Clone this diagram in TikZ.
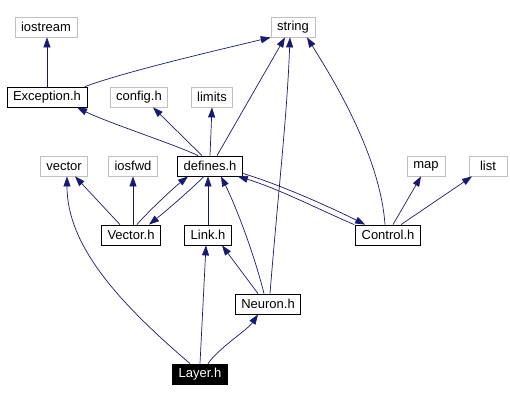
\documentclass[tikz,border=0pt]{standalone}
\usepackage{fontspec}
\setmainfont{Liberation Sans}
\usepackage{tikz}
\usetikzlibrary{arrows.meta}
\definecolor{edgeblue}{RGB}{25,25,112}
\definecolor{sysgray}{RGB}{191,191,191}

\begin{document}
\begin{tikzpicture}[x=1pt,y=-1pt]
\tikzstyle{arrow} = [edgeblue,line width=0.7pt,-{Triangle[length=10pt,width=7pt]}]
\tikzstyle{file} = [rectangle,draw=black,line width=0.8pt,minimum height=20pt,minimum width=38pt,
  inner xsep=6pt,inner ysep=0pt,font=\fontsize{13}{15}\selectfont]
\tikzstyle{sysfile} = [file,draw=sysgray]
\tikzstyle{mainfile} = [file,fill=black,text=white]
\useasboundingbox (0,0) rectangle (510,401);
\node[sysfile] (iostream) at (46,27) {iostream};
\node[sysfile] (string) at (293,27) {string};
\node[file] (exc) at (47,97) {Exception.h};
\node[sysfile] (config) at (139,97) {config.h};
\node[sysfile] (limits) at (212,97) {limits};
\node[file] (defines) at (210,166) {defines.h};
\node[sysfile] (vector) at (64,166) {vector};
\node[sysfile] (iosfwd) at (133,166) {iosfwd};
\node[sysfile] (map) at (426,166) {map};
\node[sysfile] (list) at (488,166) {list};
\node[file] (vech) at (131,235) {Vector.h};
\node[file] (link) at (208,235) {Link.h};
\node[file] (control) at (388,235) {Control.h};
\node[file] (neuron) at (268,304) {Neuron.h};
\node[mainfile] (layer) at (200,374) {Layer.h};
\draw[arrow] (exc.north) -- (exc.north |- iostream.south);
\draw[arrow] ([xshift=38pt]exc.north) .. controls +(40,-15) and +(-50,12) .. (string.south west);
\draw[arrow] ([xshift=-12pt]defines.north) .. controls +(-20,-10) and +(30,15) .. ([xshift=30pt]exc.south);
\draw[arrow] ([xshift=-8pt]defines.north) -- ([xshift=14pt]config.south);
\draw[arrow] (defines.north) -- (limits.south);
\draw[arrow] ([xshift=7pt]defines.north) -- ([xshift=-8pt]string.south);
\draw[arrow] ([xshift=-11pt]vech.north) -- ([xshift=11pt]vector.south);
\draw[arrow] (vech.north -| iosfwd) -- (iosfwd.south);
\draw[arrow] ([xshift=6pt]vech.north) .. controls +(10,-12) and +(-15,12) .. ([xshift=-22pt]defines.south);
\draw[arrow] ([xshift=-6pt]defines.south) .. controls +(-15,15) and +(15,-12) .. ([xshift=18pt]vech.north);
\draw[arrow] (link.north) -- (link.north |- defines.south);
\draw[arrow] ([xshift=-4pt]neuron.north) .. controls +(-10,-40) and +(15,30) .. ([xshift=11pt]defines.south);
\draw[arrow] ([xshift=-10pt]neuron.north) -- ([xshift=14pt]link.south);
\draw[arrow] ([xshift=2pt]neuron.north) .. controls +(8,-100) and +(-3,80) .. ([xshift=-3pt]string.south);
\draw[arrow] ([yshift=3pt]defines.south east) .. controls +(40,12) and +(-30,-15) .. ([xshift=10pt]control.north west);
\draw[arrow] ([xshift=-1pt]control.north west) .. controls +(-35,-15) and +(40,12) .. ([xshift=-5pt]defines.south east);
\draw[arrow] ([xshift=-3pt]control.north) .. controls +(-5,-70) and +(25,40) .. ([xshift=14pt]string.south);
\draw[arrow] ([xshift=5pt]control.north) -- ([xshift=-5pt]map.south);
\draw[arrow] ([xshift=13pt]control.north) -- ([xshift=-16pt]list.south);
\draw[arrow] ([xshift=-10pt]layer.north) .. controls +(-70,-60) and +(0,70) .. ([xshift=3pt]vector.south);
\draw[arrow] (layer.north) -- ([xshift=-2pt]link.south);
\draw[arrow] ([xshift=8pt]layer.north) .. controls +(10,-15) and +(-10,15) .. ([xshift=-10pt]neuron.south);
\end{tikzpicture}
\end{document}
